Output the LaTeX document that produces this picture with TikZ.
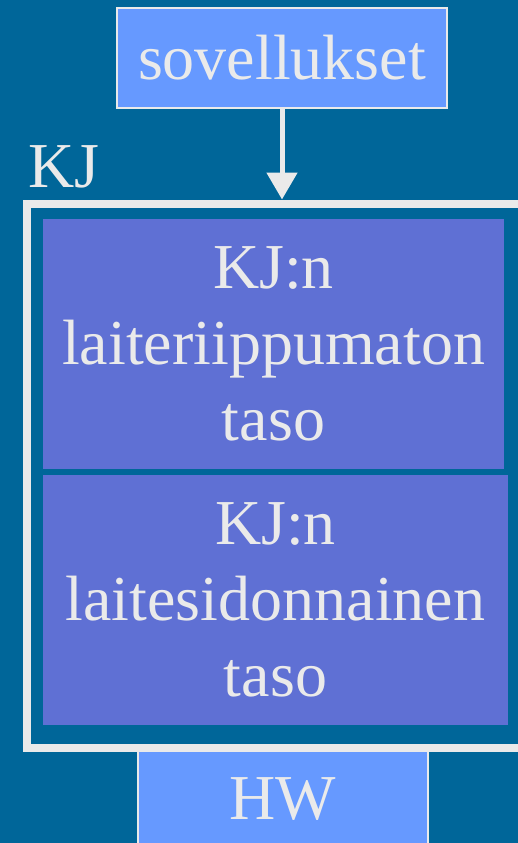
\documentclass[tikz,border=0pt]{standalone}
\usepackage{fontspec}
\setmainfont{Liberation Serif}
\usetikzlibrary{arrows.meta}
\definecolor{bgblue}{HTML}{006699}
\definecolor{lightbox}{HTML}{6699FF}
\definecolor{layerbox}{HTML}{5F70D4}
\definecolor{paleline}{HTML}{EAEAEA}
\tikzset{>={Triangle[width=30pt,length=27pt]}}
\tikzset{
  bigtext/.style={text=paleline,font=\fontsize{64}{76}\selectfont,align=center},
  lightnode/.style={bigtext,fill=lightbox,draw=paleline,line width=1.5pt,inner sep=0pt},
  layernode/.style={bigtext,fill=layerbox,inner sep=0pt,minimum height=250pt},
}

\begin{document}
\begin{tikzpicture}[x=1pt,y=-1pt]
      \fill[bgblue] (0,0) rectangle (518,843);
      \useasboundingbox (0,0) rectangle (518,843);
      \clip (0,0) rectangle (518,843);
      % applications on top
      \node[lightnode,minimum width=330pt,minimum height=100pt] (sov) at (282,58) {sovellukset};
      % hardware at the bottom, partly under the frame
      \node[lightnode,minimum width=290pt,minimum height=99pt] (hw) at (283,799.5) {HW};
      % the frame of the operating system
      \node[draw=paleline,line width=8pt,minimum width=503pt,minimum height=544pt,inner sep=0pt] (kj) at (278.5,475.5) {};
      \node[text=paleline,font=\fontsize{64}{76}\selectfont,anchor=base west,inner sep=0pt] (kjlabel) at (28,187) {KJ};
      % two layers inside
      \node[layernode,minimum width=461pt] (upper) at (273.5,344) {KJ:n\\laiteriippumaton\\taso};
      \node[layernode,minimum width=465pt] (lower) at (275.5,600) {KJ:n\\laitesidonnainen\\taso};
      \draw[->,paleline,line width=5pt] (sov.south) -- (sov.south |- kj.north);
    \end{tikzpicture}
\end{document}
